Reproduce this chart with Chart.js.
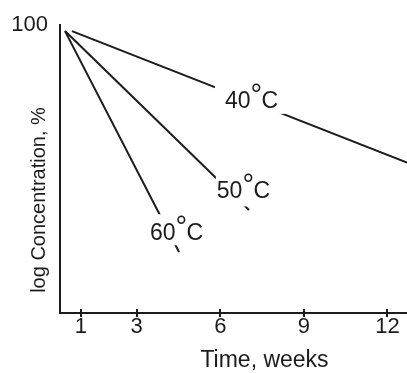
<!DOCTYPE html>
<html>
<head>
<meta charset="utf-8">
<script src="https://cdn.jsdelivr.net/npm/chart.js@4.4.0/dist/chart.umd.min.js"></script>
<style>
  html, body { margin: 0; padding: 0; background: #fff; }
</style>
</head>
<body>
<canvas id="myChart" width="407" height="373"></canvas>
<script>
"use strict";
// time in weeks, start and end of each straight line
let weeks40 = [0.68, 12.7];
let weeks50 = [0.43, 7.03];
let weeks60 = [0.43, 4.52];
// concentration %, log axis
let conc40 = [95.4, 33.3];
let conc50 = [95.4, 22.8];
let conc60 = [95.4, 16.3];
let xTicks = [1, 3, 6, 9, 12];
let yTicks = [100];
let tempNames = ["40", "50", "60"];
// label anchors in data units (week, %)
let labelWeeks = [7.12, 6.83, 4.43];
let labelConc = [51.6, 25.0, 17.9];

let ink = "#1c1c1c";
let fam = "'Liberation Sans', Arial, sans-serif";
// white box behind each label: dx, dy, w, h from text centre / baseline
let labelBoxes = [
  [-36.5, -30, 72, 36],
  [-27.5, -26, 72, 34],
  [-31.5, -26, 73, 31],
];

function toPoints(xs, ys) {
  let pts = [];
  for (let i = 0; i < xs.length; i++) pts.push({ x: xs[i], y: ys[i] });
  return pts;
}

function lineSet(xs, ys) {
  return {
    data: toPoints(xs, ys),
    borderColor: ink,
    borderWidth: 2,
    pointRadius: 0,
    fill: false,
    tension: 0,
  };
}

function drawTemp(ctx, name, cx, base) {
  ctx.font = "23px " + fam;
  let wNum = ctx.measureText(name).width;
  let wC = ctx.measureText("C").width;
  ctx.font = "29px " + fam;
  let m = ctx.measureText("°");
  let ringW = m.actualBoundingBoxLeft + m.actualBoundingBoxRight;
  let total = wNum + 1 + ringW + 1 + wC;
  let x = cx - total / 2;
  ctx.fillStyle = ink;
  ctx.textAlign = "left";
  ctx.textBaseline = "alphabetic";
  ctx.font = "23px " + fam;
  ctx.fillText(name, x, base);
  ctx.font = "29px " + fam;
  ctx.fillText("°", x + wNum + 1 + m.actualBoundingBoxLeft, base - 25 + m.actualBoundingBoxAscent);
  ctx.font = "23px " + fam;
  ctx.fillText("C", x + wNum + 1 + ringW + 1, base);
}

let extras = {
  id: "extras",
  afterDraw(chart) {
    let ctx = chart.ctx;
    let xs = chart.scales.x;
    let ys = chart.scales.y;
    let area = chart.chartArea;
    ctx.save();
    // tick marks crossing the time axis
    ctx.strokeStyle = ink;
    ctx.lineWidth = 2;
    xTicks.forEach(function (t) {
      let px = Math.round(xs.getPixelForValue(t));
      ctx.beginPath();
      ctx.moveTo(px, area.bottom - 4);
      ctx.lineTo(px, area.bottom + 4);
      ctx.stroke();
    });
    // temperature labels with white boxes over the lines
    for (let i = 0; i < tempNames.length; i++) {
      let cx = xs.getPixelForValue(labelWeeks[i]);
      let base = ys.getPixelForValue(labelConc[i]);
      let b = labelBoxes[i];
      ctx.fillStyle = "#fff";
      ctx.fillRect(cx + b[0], base + b[1], b[2], b[3]);
      drawTemp(ctx, tempNames[i], cx, base);
    }
    // axis titles
    ctx.fillStyle = ink;
    ctx.textAlign = "center";
    ctx.textBaseline = "alphabetic";
    ctx.font = "23px " + fam;
    ctx.fillText("Time, weeks", 264.5, 367);
    ctx.translate(45, 200);
    ctx.rotate(-Math.PI / 2);
    ctx.font = "20px " + fam;
    ctx.fillText("log Concentration, %", 0, 0);
    ctx.restore();
  },
};

let ctx = document.getElementById("myChart").getContext("2d");
let myChart = new Chart(ctx, {
  type: "line",
  data: {
    datasets: [lineSet(weeks40, conc40), lineSet(weeks50, conc50), lineSet(weeks60, conc60)],
  },
  options: {
    responsive: false,
    animation: false,
    devicePixelRatio: 1,
    layout: { padding: { top: 17, left: 0, right: 0, bottom: 0 } },
    plugins: { legend: { display: false }, tooltip: { enabled: false } },
    scales: {
      x: {
        type: "linear",
        min: 0.25,
        max: 12.7,
        afterBuildTicks: function (s) {
          s.ticks = xTicks.map(function (v) { return { value: v }; });
        },
        afterFit: function (s) { s.height = 60; },
        grid: { display: false, drawTicks: false },
        border: { display: true, color: ink, width: 2 },
        ticks: {
          color: ink,
          font: { size: 22, family: fam },
          padding: 1,
          maxRotation: 0,
        },
      },
      y: {
        type: "logarithmic",
        min: 10,
        max: 100,
        afterBuildTicks: function (s) {
          s.ticks = yTicks.map(function (v) { return { value: v }; });
        },
        afterFit: function (s) { s.width = 60; },
        grid: { display: false, drawTicks: false },
        border: { display: true, color: ink, width: 2 },
        ticks: {
          color: ink,
          font: { size: 22, family: fam },
          padding: 12,
          callback: function (v) { return String(v); },
        },
      },
    },
  },
  plugins: [extras],
});
</script>
</body>
</html>
